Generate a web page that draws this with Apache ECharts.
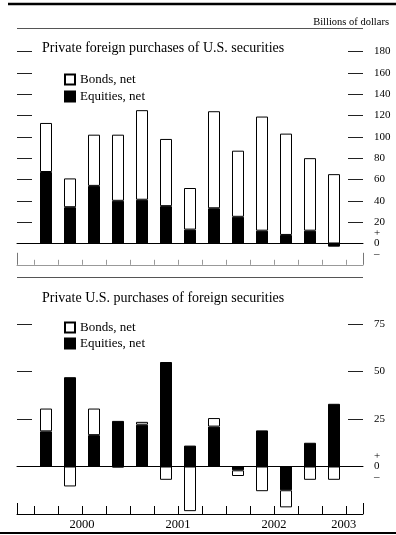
<!DOCTYPE html>
<html>
<head>
<meta charset="utf-8">
<script src="https://cdn.jsdelivr.net/npm/echarts@6/dist/echarts.min.js"></script>
<style>
html,body{margin:0;padding:0;background:#fff;}
#chart{width:396px;height:535px;}
</style>
</head>
<body>
<div id="chart"></div>
<script>
// Quarters 2000Q1 .. 2003Q1
var quarters = ['2000Q1','2000Q2','2000Q3','2000Q4','2001Q1','2001Q2','2001Q3','2001Q4','2002Q1','2002Q2','2002Q3','2002Q4','2003Q1'];
// Private foreign purchases of U.S. securities (billions of dollars)
var topEquities = [67, 34, 54, 40, 41, 35, 13, 33, 25, 12, 8, 12, -3];
var topBonds    = [46, 27, 48, 62, 84, 63, 39, 91, 62, 107, 95, 68, 65];
// Private U.S. purchases of foreign securities
var botEquities = [18.5, 47, 16.5, 24, 22, 55, 11, 21, -2, 19, -12.5, 12.5, 33];
var botBonds    = [12, -10.5, 14, -0.5, 1.5, -7, -23.5, 4.5, -3, -13, -9, -7, -7];
// Axis ticks/labels
var topTicks = [20, 40, 60, 80, 100, 120, 140, 160, 180];
var topLabels = [0, 20, 40, 60, 80, 100, 120, 140, 160, 180];
var botTicks = [25, 50, 75];
var botLabels = [0, 25, 50, 75];
var yearLabels = ['2000', '2001', '2002', '2003'];
var yearPos = [1.5, 5.5, 9.5, 12.4];

var FONT = '"Liberation Serif", "DejaVu Serif", serif';
var X_MIN = -1.2, X_MAX = 13.2;
var quarterEdges = [];
for (var k = 0; k < quarters.length; k++) quarterEdges.push(k - 0.5);
quarterEdges.push(quarters.length - 0.5);

var TOP_MIN = -20, TOP_MAX = 180, BOT_MIN = -25, BOT_MAX = 75;

var chart = echarts.init(document.getElementById('chart'), null, {renderer: 'canvas'});

function zeroX(grid) {
  return {
    type: 'value', gridIndex: grid, min: X_MIN, max: X_MAX, position: 'bottom',
    axisLine: {show: true, onZero: true, lineStyle: {color: '#000', width: 1}},
    axisTick: {show: false}, axisLabel: {show: false}, splitLine: {show: false}
  };
}
function tickX(grid, color, len, values, labels) {
  return {
    type: 'value', gridIndex: grid, min: X_MIN, max: X_MAX, position: 'bottom',
    axisLine: {show: true, onZero: false, lineStyle: {color: color, width: 1}},
    axisTick: {show: true, inside: true, length: len, customValues: values, lineStyle: {color: color, width: 1}},
    axisLabel: labels ? {
      show: true, customValues: yearPos, margin: 4,
      fontFamily: FONT, fontSize: 12.5, color: '#000',
      formatter: function (v) {
        for (var j = 0; j < yearPos.length; j++) if (Math.abs(v - yearPos[j]) < 1e-6) return yearLabels[j];
        return '';
      }
    } : {show: false},
    splitLine: {show: false}
  };
}
function edgeX(grid, color, len) {
  return {
    type: 'value', gridIndex: grid, min: X_MIN, max: X_MAX, position: 'bottom',
    axisLine: {show: false, onZero: false},
    axisTick: {show: true, inside: true, length: len, customValues: [X_MIN, X_MAX], lineStyle: {color: color, width: 1}},
    axisLabel: {show: false}, splitLine: {show: false}
  };
}
function catX(grid) {
  return {
    type: 'category', gridIndex: grid, data: quarters, position: 'bottom',
    axisLine: {show: false, onZero: false}, axisTick: {show: false},
    axisLabel: {show: false}, splitLine: {show: false}
  };
}
function yAx(grid, pos, min, max, ticks, labels) {
  return {
    type: 'value', gridIndex: grid, position: pos, min: min, max: max,
    axisLine: {show: false, onZero: false},
    axisTick: {show: true, inside: true, length: 15, customValues: ticks, lineStyle: {color: '#222', width: 1}},
    axisLabel: labels ? {
      show: true, customValues: labels, margin: 11, align: 'left',
      fontFamily: FONT, fontSize: 11, color: '#000', lineHeight: 10.5,
      formatter: function (v) { return v === 0 ? '+\n0\n\u2013' : String(v); }
    } : {show: false},
    splitLine: {show: false}
  };
}
function yHidden(grid, min, max) {
  return {
    type: 'value', gridIndex: grid, position: 'left', min: min, max: max,
    axisLine: {show: false, onZero: false}, axisTick: {show: false},
    axisLabel: {show: false}, splitLine: {show: false}
  };
}

var barStyleEq = {color: '#000', borderColor: '#000', borderWidth: 1};
var barStyleBd = {color: '#fff', borderColor: '#000', borderWidth: 1};

var option = {
  animation: false,
  backgroundColor: '#fff',
  textStyle: {fontFamily: FONT},
  grid: [
    {left: 17, right: 33, top: 51.5, height: 213.3},   // 0 top decor
    {left: 34, right: 50, top: 51.5, height: 213.3},   // 1 top bars
    {left: 17, right: 33, top: 324, height: 190},      // 2 bottom decor
    {left: 34, right: 50, top: 324, height: 190}       // 3 bottom bars
  ],
  title: [
    {text: 'Private foreign purchases of U.S. securities', left: 37, top: 36,
     textStyle: {fontFamily: FONT, fontSize: 14, fontWeight: 'normal', color: '#000'}},
    {text: 'Private U.S. purchases of foreign securities', left: 37, top: 286,
     textStyle: {fontFamily: FONT, fontSize: 14, fontWeight: 'normal', color: '#000'}},
    {text: 'Billions of dollars', right: 2, top: 12,
     textStyle: {fontFamily: FONT, fontSize: 10.5, fontWeight: 'normal', color: '#000'}}
  ],
  legend: [
    {orient: 'vertical', left: 59, top: 68, itemWidth: 10, itemHeight: 10, itemGap: 4, itemTextGap: 8,
     icon: 'rect', data: ['Bonds, net', 'Equities, net'], selectedMode: false,
     textStyle: {fontFamily: FONT, fontSize: 13, color: '#000'}},
    {orient: 'vertical', left: 59, top: 316, itemWidth: 10, itemHeight: 10, itemGap: 3, itemTextGap: 8,
     icon: 'rect', data: ['Bonds, net', 'Equities, net'], selectedMode: false,
     textStyle: {fontFamily: FONT, fontSize: 13, color: '#000'}}
  ],
  xAxis: [
    zeroX(0), tickX(0, '#999', 5, quarterEdges, false), edgeX(0, '#777', 12),   // 0,1,2
    catX(1),                                                                      // 3
    zeroX(2), tickX(2, '#000', 8, quarterEdges, true), edgeX(2, '#000', 11),     // 4,5,6
    catX(3)                                                                       // 7
  ],
  yAxis: [
    yAx(0, 'right', TOP_MIN, TOP_MAX, topTicks, topLabels),   // 0
    yAx(0, 'left', TOP_MIN, TOP_MAX, topTicks, null),         // 1
    yHidden(1, TOP_MIN, TOP_MAX),                             // 2
    yAx(2, 'right', BOT_MIN, BOT_MAX, botTicks, botLabels),   // 3
    yAx(2, 'left', BOT_MIN, BOT_MAX, botTicks, null),         // 4
    yHidden(3, BOT_MIN, BOT_MAX)                              // 5
  ],
  series: [
    {name: 'Equities, net', type: 'bar', xAxisIndex: 3, yAxisIndex: 2, stack: 'top', barWidth: 12,
     itemStyle: barStyleEq, data: topEquities},
    {name: 'Bonds, net', type: 'bar', xAxisIndex: 3, yAxisIndex: 2, stack: 'top', barWidth: 12,
     itemStyle: barStyleBd, data: topBonds},
    {name: 'Equities, net', type: 'bar', xAxisIndex: 7, yAxisIndex: 5, stack: 'bot', barWidth: 12,
     itemStyle: barStyleEq, data: botEquities},
    {name: 'Bonds, net', type: 'bar', xAxisIndex: 7, yAxisIndex: 5, stack: 'bot', barWidth: 12,
     itemStyle: barStyleBd, data: botBonds}
  ],
  graphic: [
    {type: 'line', shape: {x1: 8, y1: 4, x2: 396, y2: 4}, style: {stroke: '#000', lineWidth: 2.5}},
    {type: 'line', shape: {x1: 17, y1: 28.5, x2: 363, y2: 28.5}, style: {stroke: '#555', lineWidth: 1}},
    {type: 'line', shape: {x1: 17, y1: 277.5, x2: 363, y2: 277.5}, style: {stroke: '#555', lineWidth: 1}},
    {type: 'line', shape: {x1: 0, y1: 533, x2: 396, y2: 533}, style: {stroke: '#000', lineWidth: 2}}
  ]
};
chart.setOption(option);
</script>
</body>
</html>
